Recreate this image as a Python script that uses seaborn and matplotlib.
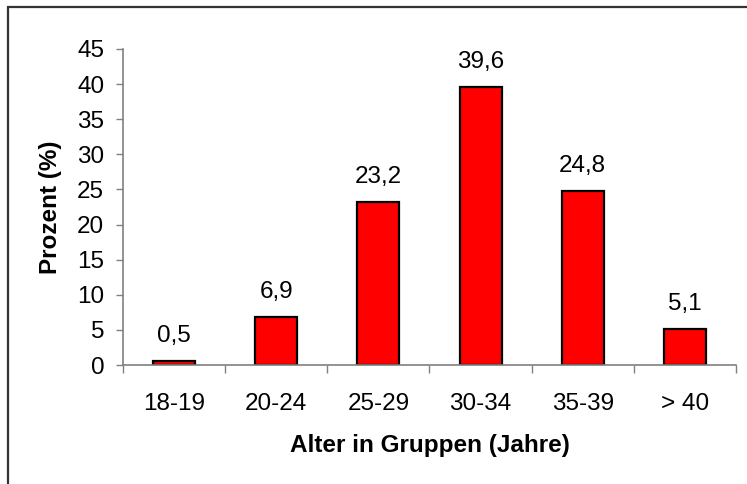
import matplotlib
matplotlib.use("Agg")
import matplotlib.pyplot as plt
import seaborn as sns
import pandas as pd
from matplotlib.patches import Rectangle
from matplotlib.ticker import FixedLocator, NullFormatter

categories = ["18-19", "20-24", "25-29", "30-34", "35-39", "> 40"]
values = [0.5, 6.9, 23.2, 39.6, 24.8, 5.1]
y_ticks = [0, 5, 10, 15, 20, 25, 30, 35, 40, 45]
x_label = "Alter in Gruppen (Jahre)"
y_label = "Prozent (%)"

sns.set_theme(style="white")
plt.rcParams["font.family"] = ["Liberation Sans", "DejaVu Sans"]

FS = 17.5

df = pd.DataFrame({"cat": categories, "val": values})

fig = plt.figure(figsize=(7.47, 4.84), dpi=100)
ax = fig.add_axes([123 / 747, 1 - 365 / 484, (736 - 123) / 747, (365 - 49) / 484])

sns.barplot(data=df, x="cat", y="val", ax=ax, color="#FF0000", saturation=1,
            edgecolor="black", linewidth=1.6, width=0.41)

ax.set_xlim(-0.5, len(categories) - 0.5)
ax.set_ylim(0, 45)
ax.set_yticks(y_ticks)
ax.set_yticklabels([str(t) for t in y_ticks], fontsize=FS, color="black")
ax.set_xticks(range(len(categories)))
ax.set_xticklabels(categories, fontsize=FS, color="black")
ax.xaxis.set_minor_locator(FixedLocator([i - 0.5 for i in range(len(categories) + 1)]))
ax.xaxis.set_minor_formatter(NullFormatter())
ax.tick_params(axis="x", which="major", length=0, pad=20.5)
ax.tick_params(axis="x", which="minor", length=5.5, width=1, color="#808080", direction="out", bottom=True)
ax.tick_params(axis="y", which="major", length=5, width=1, color="#808080", direction="out", left=True, pad=8.5)

for s in ["top", "right"]:
    ax.spines[s].set_visible(False)
for s in ["left", "bottom"]:
    ax.spines[s].set_color("#808080")
    ax.spines[s].set_linewidth(1.2)

for i, v in enumerate(values):
    ax.annotate(f"{v:.1f}".replace(".", ","), (i, v), xytext=(0, 13.7),
                textcoords="offset points", ha="center", va="baseline",
                fontsize=FS, color="black")

ax.set_xlabel(x_label, fontsize=FS, fontweight="bold", color="black", labelpad=13)
ax.set_ylabel(y_label, fontsize=FS, fontweight="bold", color="black", labelpad=11)

fig.patches.append(Rectangle((7.5 / 747, -0.1), 2, 1.1 - 6.5 / 484,
                             transform=fig.transFigure, fill=False,
                             edgecolor="#333333", linewidth=1.6, figure=fig))

fig.savefig("out.png", dpi=100)
